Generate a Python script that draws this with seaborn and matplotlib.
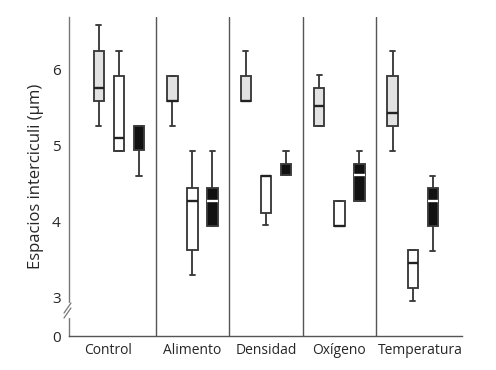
import numpy as np
import pandas as pd
import matplotlib
matplotlib.use('Agg')
import matplotlib.pyplot as plt
import matplotlib.transforms as mtransforms
import seaborn as sns

factors = ['Control', 'Alimento', 'Densidad', 'Oxígeno', 'Temperatura']
groups = ['grupo 1', 'grupo 2', 'grupo 3']

# five-number summaries: min, q1, median, q3, max
grupo1 = [[5.26, 5.59, 5.75, 6.24, 6.58],
          [5.26, 5.59, 5.59, 5.91, 5.91],
          [5.59, 5.59, 5.59, 5.91, 6.24],
          [5.25, 5.25, 5.52, 5.75, 5.92],
          [4.93, 5.25, 5.42, 5.91, 6.24]]
grupo2 = [[4.93, 4.93, 5.10, 5.91, 6.24],
          [3.29, 3.62, 4.27, 4.44, 4.93],
          [3.95, 4.11, 4.60, 4.60, 4.60],
          [3.94, 3.94, 3.94, 4.27, 4.27],
          [2.95, 3.12, 3.45, 3.62, 3.62]]
grupo3 = [[4.60, 4.94, 5.25, 5.25, 5.25],
          [3.94, 3.94, 4.27, 4.44, 4.93],
          [4.61, 4.61, 4.76, 4.76, 4.93],
          [4.27, 4.27, 4.61, 4.76, 4.93],
          [3.61, 3.94, 4.27, 4.44, 4.60]]

fills = {'grupo 1': '#e2e2e2', 'grupo 2': 'white', 'grupo 3': '#111111'}
medians = {'grupo 1': '#222222', 'grupo 2': '#222222', 'grupo 3': 'white'}

rows = []
for g, summ in zip(groups, [grupo1, grupo2, grupo3]):
    for f, vals in zip(factors, summ):
        for v in vals:
            rows.append({'factor': f, 'grupo': g, 'valor': v})
df = pd.DataFrame(rows)

# broken axis: below BRK the scale is squeezed
BRK = 2.9
K = (BRK - 2.49) / BRK
def fwd(y):
    y = np.asarray(y, dtype=float)
    return np.where(y >= BRK, y, BRK - (BRK - y) * K)
def inv(u):
    u = np.asarray(u, dtype=float)
    return np.where(u >= BRK, u, BRK - (BRK - u) / K)

sns.set_style('white')
plt.rcParams['font.family'] = ['Open Sans', 'DejaVu Sans']

fig = plt.figure(figsize=(4.96, 3.70), dpi=100)
ax = fig.add_axes([69/496, 34/370, 393/496, 319/370])
ax.set_yscale('function', functions=(fwd, inv))

for g in groups:
    sub = df[df.grupo == g]
    sns.boxplot(data=sub, x='factor', y='valor', hue='grupo', order=factors,
                hue_order=groups, palette=fills, saturation=1, dodge=True,
                width=0.82, gap=0.48, whis=(0, 100), linecolor='#3a3a3a',
                linewidth=1.35, medianprops={'color': medians[g], 'linewidth': 1.7},
                legend=False, ax=ax)

# white medians sitting on the box edge are not visible in the original
for ln in ax.lines:
    if ln.get_color() != 'white':
        continue
    xd, yd = ln.get_xdata(), ln.get_ydata()
    i = int(round(np.mean(xd)))
    if 0 <= i < len(factors):
        s = grupo3[i]
        if np.isclose(yd[0], s[1]) or np.isclose(yd[0], s[3]):
            ln.set_visible(False)

for xs in [0.5, 1.5, 2.5, 3.5]:
    ax.axvline(xs, color='#555555', lw=1.0, zorder=0.4)

ax.set_xlim(-0.68, 4.67)
ax.set_ylim(0, 6.69)
ax.set_yticks([0, 3, 4, 5, 6])
ax.set_yticks([3.5, 4.5, 5.5, 6.5], minor=True)
ax.set_yticklabels(['0', '3', '4', '5', '6'])
ax.yaxis.set_minor_formatter(plt.NullFormatter())
ax.tick_params(axis='y', which='both', direction='in', length=4, width=1,
               color='#666666', labelsize=11, pad=6)
ax.tick_params(axis='x', length=0, labelsize=10, pad=5)
ax.set_xlabel('')
ax.set_ylabel('Espacios interciculi (µm)', fontsize=12, labelpad=6)

# nudge the outer labels like in the original
labs = ax.get_xticklabels()
labs[0].set_transform(labs[0].get_transform() + mtransforms.ScaledTranslation(-11/100, 0, fig.dpi_scale_trans))
labs[-1].set_transform(labs[-1].get_transform() + mtransforms.ScaledTranslation(8/100, 0, fig.dpi_scale_trans))

ax.grid(False)
sns.despine(ax=ax, top=True, right=True)
ax.spines['left'].set_color('#777777')
ax.spines['bottom'].set_color('#555555')
ax.spines['left'].set_linewidth(1)
ax.spines['bottom'].set_linewidth(1)

# break marks on the y axis
ax.plot([0, 0], [0.062, 0.1], transform=ax.transAxes, color='white', lw=2.5, clip_on=False, zorder=5)
ax.plot([-0.0127, 0.005], [0.072, 0.1034], transform=ax.transAxes, color='#777777', lw=0.9, clip_on=False, zorder=6)
ax.plot([-0.0127, 0.005], [0.0564, 0.0878], transform=ax.transAxes, color='#777777', lw=0.9, clip_on=False, zorder=6)

plt.savefig('out.png', dpi=100)
